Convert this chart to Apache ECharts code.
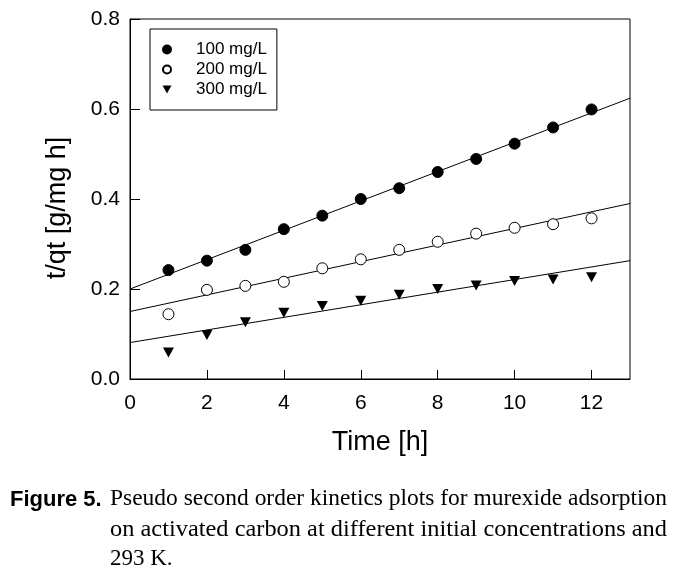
<!DOCTYPE html>
<html>
<head>
<meta charset="utf-8">
<script src="https://cdn.jsdelivr.net/npm/echarts@6/dist/echarts.min.js"></script>
<style>html,body{margin:0;padding:0;background:#fff;}#c{width:687px;height:577px;}</style>
</head>
<body>
<div id="c"></div>
<script>
var times = [1,2,3,4,5,6,7,8,9,10,11,12];
var c100 = [0.242,0.263,0.287,0.333,0.363,0.400,0.424,0.460,0.489,0.523,0.559,0.599];
var c200 = [0.144,0.198,0.207,0.216,0.246,0.266,0.287,0.305,0.323,0.336,0.344,0.357];
var c300 = [0.059,0.098,0.126,0.147,0.162,0.174,0.187,0.200,0.208,0.218,0.221,0.226];
var fitX = [0, 13];
var fit100 = [0.200, 0.624];
var fit200 = [0.150, 0.390];
var fit300 = [0.081, 0.263];
var seriesNames = ['100 mg/L','200 mg/L','300 mg/L'];
var xTicks = [0,2,4,6,8,10,12];
var captionLines = [
  'Pseudo second order kinetics plots for murexide adsorption',
  'on activated carbon at different initial concentrations and',
  '293 K.'
];

function pts(xs, ys){ return xs.map(function(x,i){ return [x, ys[i]]; }); }
var tri = 'path://M0,0 L10,0 L5,9 Z';
var sans = 'Liberation Sans, Arial, sans-serif';
var serifFont = '23px Liberation Serif, Times New Roman, serif';

var mctx = document.createElement('canvas').getContext('2d');
function textW(font, s){ mctx.font = font; return mctx.measureText(s).width; }
var capLeft = 110, capRight = 667;
function justifyScale(s){ return (capRight - capLeft) / textW(serifFont, s); }

var chart = echarts.init(document.getElementById('c'), null, {renderer:'canvas'});
chart.setOption({
  backgroundColor: '#fff',
  animation: false,
  grid: {left:130, right:57, top:19, bottom:198, show:true, borderColor:'#000', borderWidth:1, backgroundColor:'transparent'},
  legend: {
    data: seriesNames,
    orient: 'vertical',
    left: 150, top: 29,
    borderColor: '#000', borderWidth: 1,
    padding: [12, 10, 12, 12],
    itemGap: 3,
    itemWidth: 36, itemHeight: 8,
    textStyle: {fontFamily: sans, fontSize: 17, lineHeight: 17, color:'#000', padding:[0,0,0,6]}
  },
  xAxis: {
    type: 'value', min: 0, max: 13, interval: 2,
    name: 'Time [h]', nameLocation: 'middle', nameGap: 50,
    nameTextStyle: {fontFamily: sans, fontSize: 27, color:'#000'},
    axisLine: {show:true, lineStyle:{color:'#000', width:1}},
    axisTick: {show:true, inside:true, length:9, lineStyle:{color:'#000'}},
    axisLabel: {fontFamily: sans, fontSize: 21, color:'#000', margin: 14, showMaxLabel:false,
      formatter: function(v){ return xTicks.indexOf(v) >= 0 ? String(v) : ''; }},
    splitLine: {show:false}
  },
  yAxis: {
    type: 'value', min: 0, max: 0.8, interval: 0.2,
    axisLine: {show:true, lineStyle:{color:'#000', width:1}},
    axisTick: {show:true, inside:true, length:10, lineStyle:{color:'#000'}},
    axisLabel: {fontFamily: sans, fontSize: 21, color:'#000', margin: 10,
      formatter: function(v){ return v.toFixed(1); }},
    splitLine: {show:false}
  },
  graphic: [
    {type:'text', x: 58, y: 208, rotation: Math.PI/2,
      style:{text:'t/qt [g/mg h]', font:'27px Liberation Sans, Arial, sans-serif', fill:'#000',
        textAlign:'center', textVerticalAlign:'middle', align:'center', verticalAlign:'middle'}},
    {type:'text', x: 10, y: 500,
      style:{text:'Figure 5.', font:'bold 22px Liberation Sans, Arial, sans-serif', fill:'#000',
        textVerticalAlign:'middle', verticalAlign:'middle'}},
    {type:'text', x: capLeft, y: 499, scaleX: justifyScale(captionLines[0]),
      style:{text: captionLines[0], font: serifFont, fill:'#000', textVerticalAlign:'middle', verticalAlign:'middle'}},
    {type:'text', x: capLeft, y: 530, scaleX: justifyScale(captionLines[1]),
      style:{text: captionLines[1], font: serifFont, fill:'#000', textVerticalAlign:'middle', verticalAlign:'middle'}},
    {type:'text', x: capLeft, y: 559,
      style:{text: captionLines[2], font: serifFont, fill:'#000', textVerticalAlign:'middle', verticalAlign:'middle'}}
  ],
  series: [
    {name: seriesNames[0], type:'scatter', data: pts(times, c100), symbol:'circle', symbolSize:11,
      itemStyle:{color:'#000', borderColor:'#000', borderWidth:1, opacity:1}},
    {name: seriesNames[1], type:'scatter', data: pts(times, c200), symbol:'circle', symbolSize:11,
      itemStyle:{color:'#fff', borderColor:'#000', borderWidth:1, opacity:1}},
    {name: seriesNames[2], type:'scatter', data: pts(times, c300), symbol: tri, symbolSize:[11,10],
      itemStyle:{color:'#000', borderColor:'#000', borderWidth:0, opacity:1}},
    {name:'fit100', type:'line', data: pts(fitX, fit100), symbol:'none', lineStyle:{color:'#000', width:1}, z:1},
    {name:'fit200', type:'line', data: pts(fitX, fit200), symbol:'none', lineStyle:{color:'#000', width:1}, z:1},
    {name:'fit300', type:'line', data: pts(fitX, fit300), symbol:'none', lineStyle:{color:'#000', width:1}, z:1}
  ]
});
</script>
</body>
</html>
